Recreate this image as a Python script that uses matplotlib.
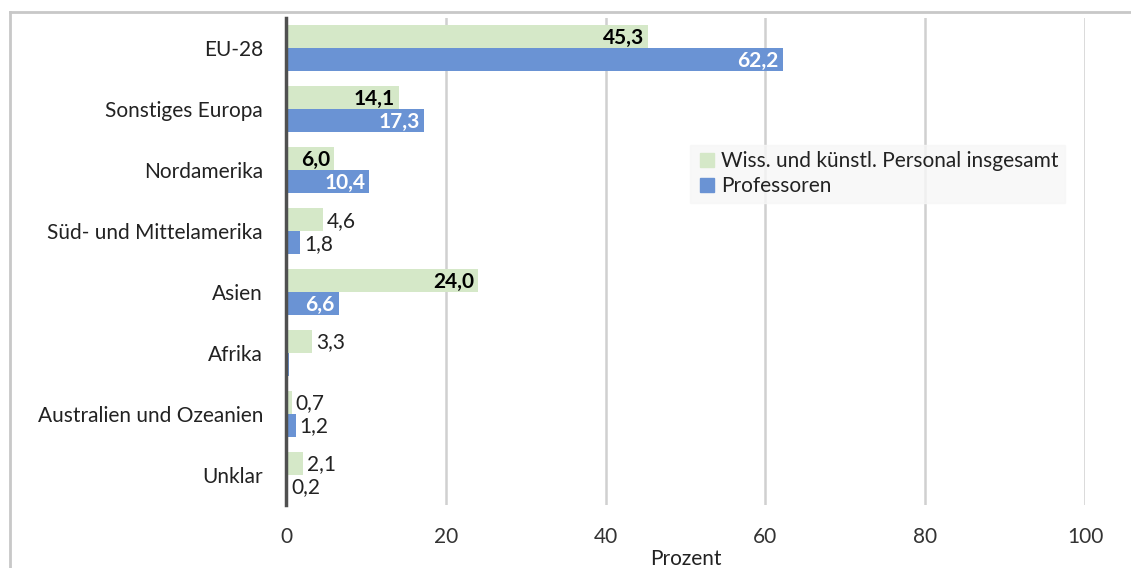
import matplotlib
matplotlib.use("Agg")
import matplotlib.pyplot as plt
from matplotlib.lines import Line2D
import numpy as np

plt.rcParams['font.family'] = ['Lato', 'DejaVu Sans']

categories = ["EU-28", "Sonstiges Europa", "Nordamerika", "Süd- und Mittelamerika",
              "Asien", "Afrika", "Australien und Ozeanien", "Unklar"]
personal = [45.3, 14.1, 6.0, 4.6, 24.0, 3.3, 0.7, 2.1]
professoren = [62.2, 17.3, 10.4, 1.8, 6.6, 0.4, 1.2, 0.2]
prof_labels = ["62,2", "17,3", "10,4", "1,8", "6,6", None, "1,2", "0,2"]
pers_labels = ["45,3", "14,1", "6,0", "4,6", "24,0", "3,3", "0,7", "2,1"]
xticks = [0, 20, 40, 60, 80, 100]
series_names = ["Wiss. und künstl. Personal insgesamt", "Professoren"]

green = "#d5e8c8"
blue = "#6a93d4"
FS = 15

W, H = 1131, 568
fig = plt.figure(figsize=(W / 100, H / 100), dpi=100)
ax = fig.add_axes([286 / W, 1 - 505 / H, (1085 - 286) / W, (505 - 18) / H])

y = np.arange(len(categories))
bh = 0.377
ax.barh(y - bh / 2, personal, height=bh, color=green, zorder=2)
ax.barh(y + bh / 2, professoren, height=bh, color=blue, zorder=2)

inside_thr = 5.5
for i in range(len(categories)):
    v = personal[i]
    if pers_labels[i] is not None:
        if v > inside_thr:
            ax.text(v - 0.5, y[i] - bh / 2 + 0.02, pers_labels[i], ha="right", va="center",
                    fontsize=FS, fontweight="bold", color="black", zorder=3)
        else:
            ax.text(v + 0.5, y[i] - bh / 2 + 0.02, pers_labels[i], ha="left", va="center",
                    fontsize=FS, color="#222222", zorder=3)
    v = professoren[i]
    if prof_labels[i] is not None:
        if v > inside_thr:
            ax.text(v - 0.5, y[i] + bh / 2 + 0.02, prof_labels[i], ha="right", va="center",
                    fontsize=FS, fontweight="bold", color="white", zorder=3)
        else:
            ax.text(v + 0.5, y[i] + bh / 2 + 0.02, prof_labels[i], ha="left", va="center",
                    fontsize=FS, color="#222222", zorder=3)

ax.set_xlim(0, 100)
ax.set_ylim(len(categories) - 0.5, -0.5)
ax.set_xticks(xticks)
ax.set_xticklabels([str(t) for t in xticks], fontsize=FS, color="#333333")
ax.set_yticks(y)
ax.set_yticklabels(categories, fontsize=FS, color="#222222")
ax.tick_params(axis="both", length=0)
ax.tick_params(axis="x", pad=16)
ax.tick_params(axis="y", pad=16.5)
ax.xaxis.grid(True, color="#d0d0d0", linewidth=1.8, zorder=0)
ax.set_axisbelow(True)
for s in ["top", "right", "bottom"]:
    ax.spines[s].set_visible(False)
ax.spines["left"].set_color("#505050")
ax.spines["left"].set_linewidth(2.5)
ax.spines["left"].set_zorder(4)
ax.set_xlabel("Prozent", fontsize=FS, color="#222222", labelpad=1)

handles = [Line2D([], [], marker="s", linestyle="none", markersize=10,
                  markerfacecolor=green, markeredgecolor=green),
           Line2D([], [], marker="s", linestyle="none", markersize=10,
                  markerfacecolor=blue, markeredgecolor=blue)]
leg = ax.legend(handles, series_names, loc="upper left",
                bbox_to_anchor=((690 - 286) / (1085 - 286), 1 - (145 - 18) / (505 - 18)),
                fontsize=FS, frameon=True, fancybox=False, handletextpad=0.2,
                handlelength=1.0, borderpad=0.3, labelspacing=0.25, borderaxespad=0)
leg.get_frame().set_facecolor("#f7f7f7")
leg.get_frame().set_edgecolor("#f7f7f7")
for t in leg.get_texts():
    t.set_color("#222222")

# outer frame lines (cropped chart border)
fig.add_artist(Line2D([10 / W, 1], [1 - 12 / H, 1 - 12 / H], color="#c8c8c8", linewidth=2))
fig.add_artist(Line2D([10 / W, 10 / W], [0, 1 - 12 / H], color="#c8c8c8", linewidth=2))

fig.savefig("out.png", dpi=100)
